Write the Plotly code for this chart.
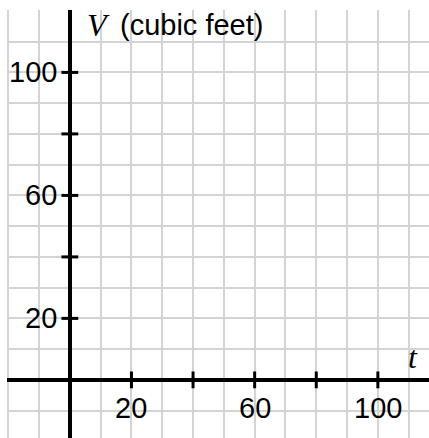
import plotly.graph_objects as go

# Axis ticks and labels
x_ticks = [20, 40, 60, 80, 100]
y_ticks = [20, 40, 60, 80, 100]
x_labels = [20, 60, 100]
y_labels = [20, 60, 100]

x_range = [-20.4, 116.6]
y_range = [-18.9, 120.3]

label_font = dict(family="Liberation Sans, Arial, sans-serif", size=29, color="black")
math_font = dict(family="Liberation Serif, DejaVu Serif, serif", size=32, color="black")

fig = go.Figure()

# tick marks sitting on the axes
fig.add_trace(go.Scatter(
    x=x_ticks, y=[0] * len(x_ticks), mode="markers",
    marker=dict(symbol="line-ns", size=12, line=dict(width=3, color="black")),
    hoverinfo="skip", showlegend=False
))
fig.add_trace(go.Scatter(
    x=[0] * len(y_ticks), y=y_ticks, mode="markers",
    marker=dict(symbol="line-ew", size=12, line=dict(width=3, color="black")),
    hoverinfo="skip", showlegend=False
))

annotations = []
for v in x_labels:
    annotations.append(dict(x=v, y=0, xref="x", yref="y", text=str(v), showarrow=False,
                            xanchor="center", yanchor="middle", yshift=-28, font=label_font))
for v in y_labels:
    annotations.append(dict(x=0, y=v, xref="x", yref="y", text=str(v), showarrow=False,
                            xanchor="right", yanchor="middle", xshift=-11, font=label_font))

# axis names
annotations.append(dict(x=0, y=115.4, xref="x", yref="y", text="<i>V</i>", showarrow=False,
                        xanchor="left", yanchor="middle", xshift=15, font=math_font))
annotations.append(dict(x=0, y=115.4, xref="x", yref="y", text="(cubic feet)", showarrow=False,
                        xanchor="left", yanchor="middle", xshift=48, font=label_font))
annotations.append(dict(x=111.4, y=7.5, xref="x", yref="y", text="<i>t</i>", showarrow=False,
                        xanchor="center", yanchor="middle", font=math_font))

fig.update_layout(
    width=429, height=438,
    margin=dict(l=7, r=0, t=10, b=0),
    paper_bgcolor="white", plot_bgcolor="white",
    showlegend=False,
    annotations=annotations,
    xaxis=dict(range=x_range, dtick=10, tick0=0, showticklabels=False, ticks="",
               showgrid=True, gridcolor="#d4d4d4", gridwidth=1.5,
               zeroline=True, zerolinecolor="black", zerolinewidth=4, fixedrange=True),
    yaxis=dict(range=y_range, dtick=10, tick0=0, showticklabels=False, ticks="",
               showgrid=True, gridcolor="#d4d4d4", gridwidth=1.5,
               zeroline=True, zerolinecolor="black", zerolinewidth=4, fixedrange=True),
)

# drop the default page margin so the figure sits at the window corner
fig.write_html("out.html", config={"displayModeBar": False},
               post_script="document.body.style.margin='0';document.body.style.overflow='hidden';")
